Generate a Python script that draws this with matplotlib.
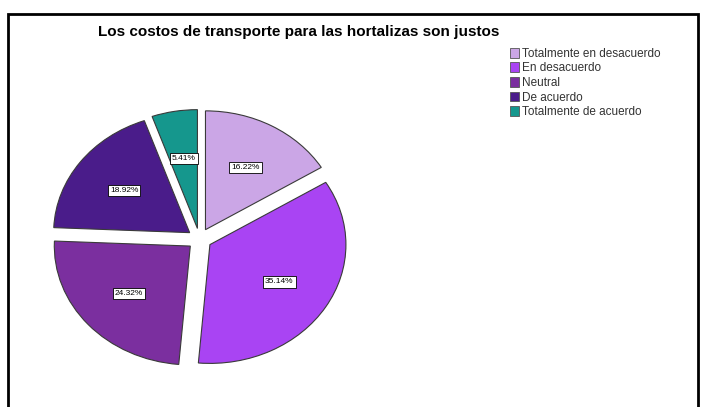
import matplotlib.pyplot as plt
from matplotlib.patches import Rectangle, Patch

plt.rcParams['font.family'] = ['Liberation Sans', 'DejaVu Sans']

# survey answers and their shares (%)
categorias = ['Totalmente en desacuerdo', 'En desacuerdo', 'Neutral',
              'De acuerdo', 'Totalmente de acuerdo']
porcentajes = [16.22, 35.14, 24.32, 18.92, 5.41]
colores = ['#cba6e6', '#a944f3', '#7b2f9f', '#4a1c8a', '#15978d']

fig = plt.figure(figsize=(7.04, 4.07), dpi=100)

# black frame around the chart area (bottom edge runs off the image)
fig.patches.append(Rectangle((8 / 704, -0.05), 690 / 704, 1.05 - 14 / 407,
                             transform=fig.transFigure, fill=False,
                             edgecolor='black', linewidth=2))

ax = fig.add_axes([29.5 / 704, 19.5 / 407, 340 / 704, 297 / 407])
wedges, texts, autotexts = ax.pie(
    porcentajes, colors=colores, startangle=90, counterclock=False,
    explode=[0.09] * len(porcentajes), autopct='%1.2f%%', pctdistance=0.6,
    wedgeprops=dict(edgecolor='#3a3a3a', linewidth=0.8),
    textprops=dict(fontsize=6, color='black'))
for t in autotexts:
    t.set_bbox(dict(boxstyle='square,pad=0.25', facecolor='white',
                    edgecolor='black', linewidth=0.6))
ax.set_aspect('auto')
ax.set_xlim(-1.25, 1.25)
ax.set_ylim(-1.25, 1.25)
ax.axis('off')

fig.text(299 / 704, 1 - 32 / 407,
         'Los costos de transporte para las hortalizas son justos',
         ha='center', va='center', fontsize=11, fontweight='bold')

handles = [Patch(facecolor=c, edgecolor='#555555', linewidth=0.6) for c in colores]
fig.legend(handles, categorias, loc='upper left',
           bbox_to_anchor=(505 / 704, 1 - 43 / 407), frameon=False,
           fontsize=8.5, handlelength=0.8, handleheight=0.9,
           handletextpad=0.2, labelspacing=0.22, borderaxespad=0,
           labelcolor='#333333')

fig.savefig('out.png', dpi=100, facecolor='white')
